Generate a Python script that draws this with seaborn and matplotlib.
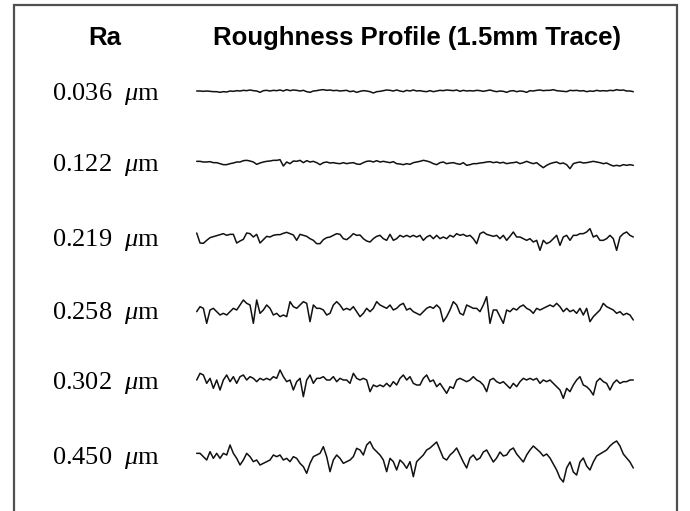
import numpy as np
import pandas as pd
import matplotlib
matplotlib.use("Agg")
import matplotlib.pyplot as plt
import seaborn as sns
from matplotlib.patches import Rectangle

sns.set_theme(style="white")
plt.rcParams['font.family'] = ['Liberation Sans', 'DejaVu Sans']
plt.rcParams['mathtext.fontset'] = 'custom'
plt.rcParams['mathtext.rm'] = 'Liberation Serif'
plt.rcParams['mathtext.it'] = 'Liberation Serif:italic'

# ---- data ----
ra_labels = ["0.036", "0.122", "0.219", "0.258", "0.302", "0.450"]

# profile deviations (arbitrary height units, positive = down), 132 samples over 1.5 mm
p036 = [0,0,1,0,1,2,2,4,2,3, 0,1,-1,0,-2,-1,-3,-1,0,4, -1,-2,0,-2,-1,-3,0,-4,-1,-3,
        -2,0,-2,2,4,0,-1,-3,-4,-2, -3,-1,-2,0,-1,-2,2,0,4,1, -1,0,2,6,2,1,-1,-3,-2,0,
        -3,0,2,-2,0,-3,0,-1,
        1,2,-1,2,0,-2,-1,-3,-2,-1, -3,1,-2,0,-1,0,-2,-1,1,-1, -3,0,2,0,1,4,0,-1,2,0,
        1,4,-1,0,-2,-3,-1,-2,-2,-4, -1,0,1,2,-2,-1,-2,0,-1,2, 0,1,-2,0,-1,0,-2,-1,-4,-2,
        -3,0,0,2]
p122 = [-2,-2,0,0,-1,2,2,5,8,8, 5,3,0,0,-4,-5,-3,0,7,3, 0,-2,-3,-5,-5,-7,12,0,5,-3,
        -2,-5,2,-4,0,-2,2,8,2,0, 3,2,4,5,2,5,3,2,6,7, 2,-2,-3,0,-4,0,-2,0,2,-1,
        5,6,8,5,7,2,0,-2,
        -5,-3,0,5,8,2,0,5,3,2, 5,7,2,10,8,5,5,3,2,0, -1,2,0,3,1,5,3,2,0,5,
        2,-2,2,5,2,10,17,10,5,2, 0,5,3,8,20,5,2,0,3,2, 0,-2,0,2,5,3,8,12,10,12,
        8,10,8,10]
p219 = [-12,18,19,10,2,-1,-4,-7,-10,-5, -8,-8,18,12,7,-12,-10,0,-8,18, 8,-2,0,-5,-7,-7,-11,-14,-10,-6,
        10,-8,-5,-2,5,10,20,20,8,2, 0,-5,-10,-8,5,8,0,-10,-5,-6, 5,12,15,5,-2,-5,5,10,-8,10,
        5,-5,0,-5,0,-5,0,-5,
        10,0,-5,5,-5,5,0,5,-5,0, -10,-5,-8,-2,-5,5,20,-10,-15,-8, -5,-2,-5,5,-5,10,-2,-15,0,0,
        5,10,5,15,10,40,10,20,15,5, -5,25,0,-5,10,-5,-5,-10,-10,-15, -25,0,-5,10,10,5,-5,5,40,0,
        -10,-15,-5,0]
p258 = [5,-10,-5,40,0,-5,5,15,10,15, 5,-5,0,-15,-30,-20,-15,40,-30,10, 0,-15,-5,15,10,20,15,20,-25,-10,
        -5,-15,-25,-20,35,-15,-5,-5,0,15, 10,-15,-25,-15,0,-5,0,-10,5,20, 10,-5,5,-5,-25,-15,-10,-5,-15,0,
        -5,-15,-20,0,-5,5,10,15,
        5,-5,-10,-5,-15,-5,35,20,0,-25, -15,10,15,-15,-10,-5,-5,5,-15,-40, 40,0,0,20,40,0,5,-5,0,-10,
        -15,-5,0,10,-5,0,-5,-10,-15,-10, -20,-10,5,-5,5,0,10,-5,15,-5, 35,20,10,0,-20,-10,-5,0,10,5,
        15,10,15,30]
p302 = [0,-20,-15,10,-5,25,0,30,0,-15, 5,-10,10,-10,-15,0,-10,-5,5,-5, 0,-5,0,-10,-5,-30,-10,5,0,30,
        5,-5,50,0,-15,10,-5,-5,-10,0, 0,-10,5,-5,0,0,10,-20,-5,0, -5,0,35,15,20,15,20,10,20,5,
        15,-5,-15,0,-10,10,15,15,
        -5,-15,5,0,20,10,25,40,20,25, 0,-5,0,5,0,-10,0,5,15,35, 0,-5,5,10,5,15,25,10,20,5,
        -5,0,-5,0,-5,10,0,5,0,10, 20,30,55,25,35,15,0,-10,15,20, 30,45,5,-5,5,10,30,10,0,10,
        5,5,0,0]
p450 = [-5,-5,5,15,-10,10,-5,10,-5,0, -30,-5,10,30,15,-5,5,20,15,30, 25,20,15,0,5,0,15,10,20,5,
        10,25,35,55,25,5,0,-5,-25,5, 50,15,0,10,25,20,15,5,-20,-15, 0,-30,-40,-20,-10,0,15,50,10,20,
        45,15,25,40,20,65,20,10,
        0,-15,-21,-30,-39,-15,9,15,0,-9, -21,0,21,39,9,0,15,9,-9,-15, 3,21,9,-9,3,0,-15,-21,-3,9,
        21,0,-15,-27,-18,-9,3,-3,9,27, 45,69,81,39,21,51,60,21,9,33, 45,21,3,-3,-9,-15,-27,-36,-42,-27,
        -3,9,21,39]
profiles = [p036, p122, p219, p258, p302, p450]

# ---- layout ----
W, H = 690, 511
fig = plt.figure(figsize=(6.9, 5.11), dpi=100)
ax = fig.add_axes([0, 0, 1, 1])
ax.set_xlim(0, W)
ax.set_ylim(H, 0)
ax.axis('off')

fig.patches.append(Rectangle((14 / W, -0.05), (677 - 14) / W, (H - 5) / H + 0.05,
                             transform=fig.transFigure, fill=False,
                             edgecolor='#505050', linewidth=1.6))

baselines = [91, 162, 237, 310, 380, 455]
x0, x1 = 196.7, 633.3
scale = 1 / 3.0

for lab, prof, base in zip(ra_labels, profiles, baselines):
    n = len(prof)
    mm = np.linspace(0, 1.5, n)
    xs = x0 + mm / 1.5 * (x1 - x0)
    ys = base + np.array(prof) * scale
    df = pd.DataFrame({'x': xs, 'y': ys})
    sns.lineplot(data=df, x='x', y='y', ax=ax, color='#111111', linewidth=1.1,
                 estimator=None, sort=False)
    ax.text(52, base + 9, lab + r'  $\mu$m', fontsize=19, family='Liberation Serif',
            ha='left', va='baseline', color='black')

ax.text(105, 45, 'Ra', fontsize=18.5, fontweight='bold', ha='center', va='baseline',
        family='Liberation Sans', color='black')
ax.text(417, 45, 'Roughness Profile (1.5mm Trace)', fontsize=18.5, fontweight='bold',
        ha='center', va='baseline', family='Liberation Sans', color='black')

fig.savefig('out.png', dpi=100)
